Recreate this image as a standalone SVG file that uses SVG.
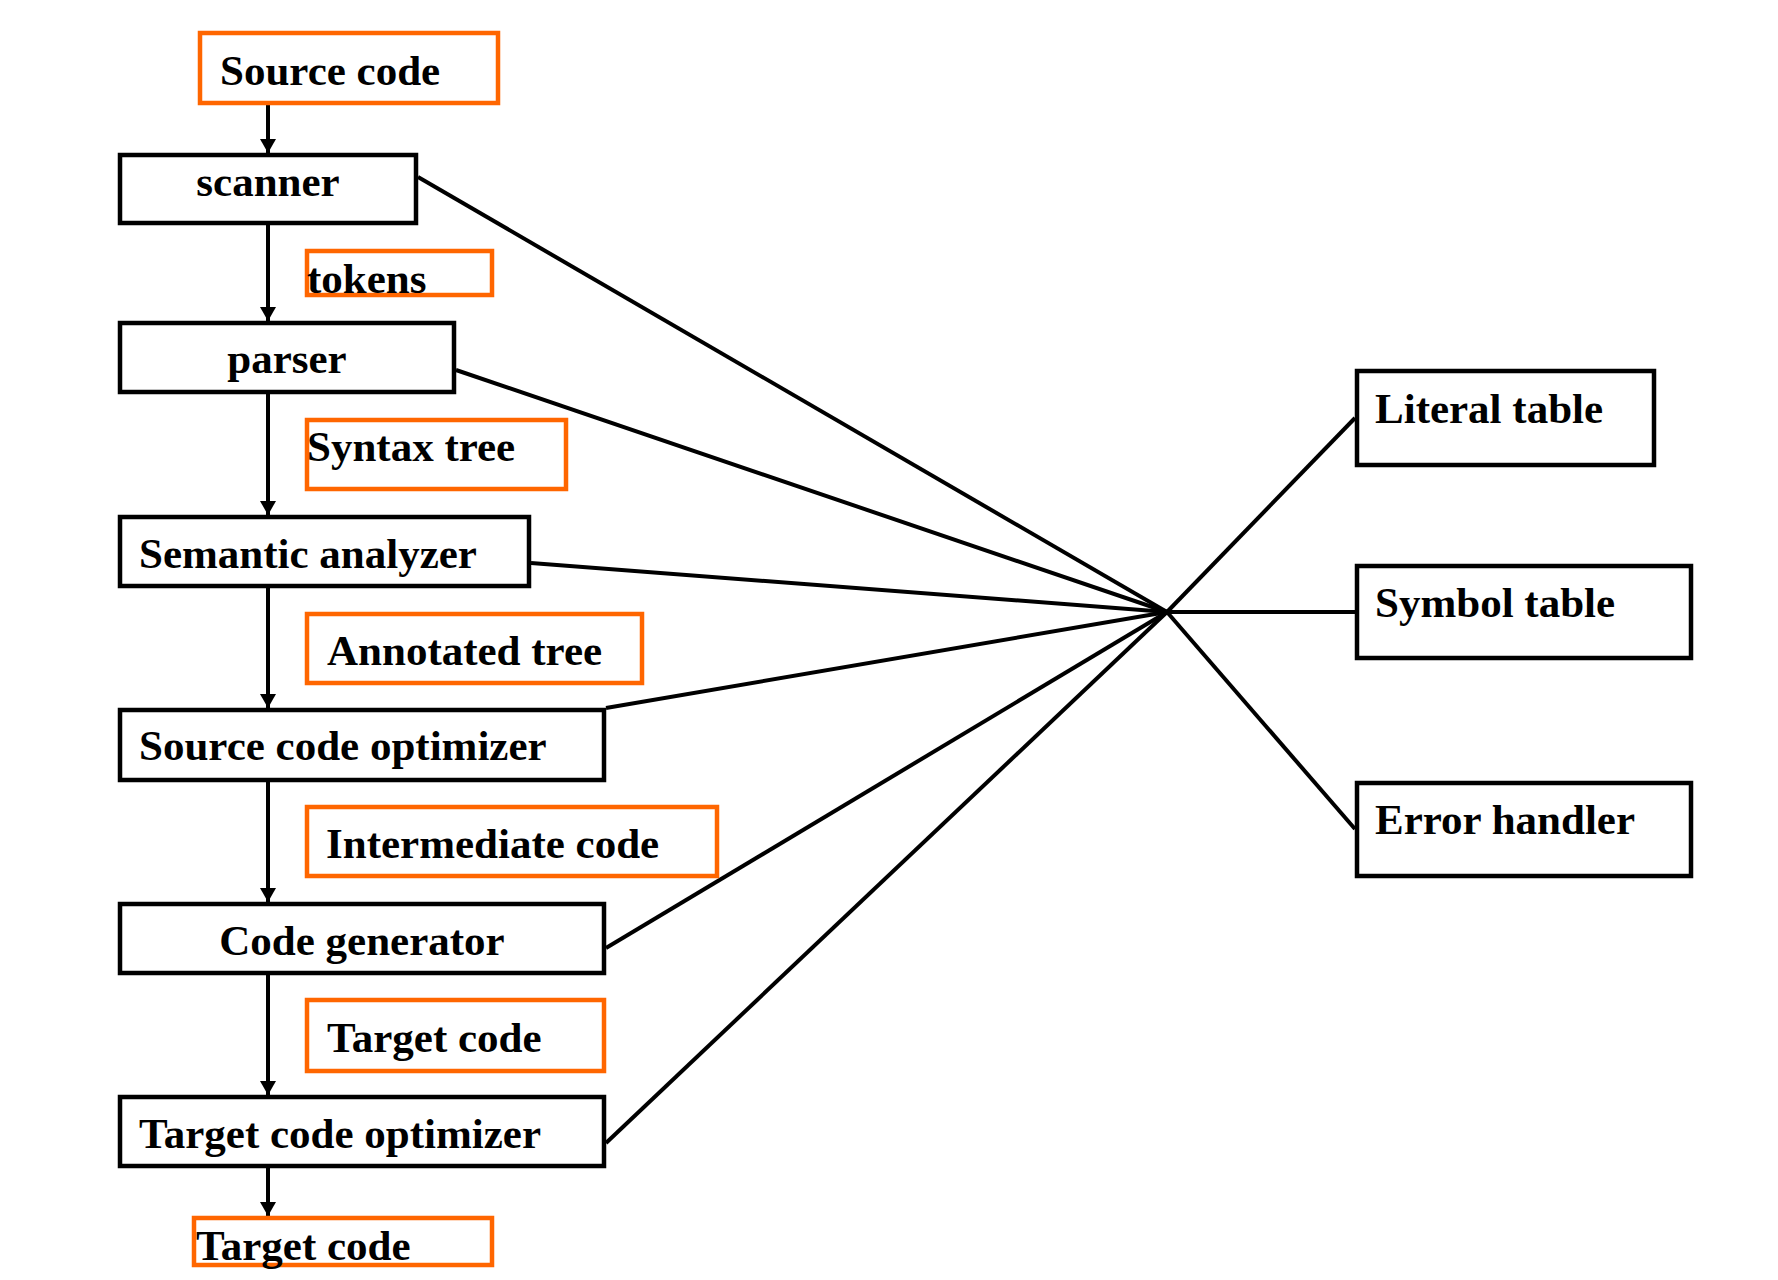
<svg xmlns="http://www.w3.org/2000/svg" width="1778" height="1280" viewBox="0 0 1778 1280">
<style>
.box{fill:#fff;stroke:#000;stroke-width:4.5}
.obox{fill:#fff;stroke:#FF6600;stroke-width:4.5}
.t{font-family:"Liberation Serif","Times New Roman",serif;font-weight:bold;font-size:43px;fill:#000}
.m{text-anchor:middle}
.ln{stroke:#000;stroke-width:4;fill:none}
</style>
<defs>
<marker id="ah" viewBox="0 0 14 16" refX="14" refY="8" markerWidth="14" markerHeight="16" markerUnits="userSpaceOnUse" orient="auto">
<path d="M0,0 L14,8 L0,16 z" fill="#000"/>
</marker>
</defs>
<rect width="1778" height="1280" fill="#fff"/>
<g id="connectors">
<line class="ln" x1="268" y1="105" x2="268" y2="153" marker-end="url(#ah)"/>
<line class="ln" x1="268" y1="225" x2="268" y2="321" marker-end="url(#ah)"/>
<line class="ln" x1="268" y1="394" x2="268" y2="515" marker-end="url(#ah)"/>
<line class="ln" x1="268" y1="588" x2="268" y2="708" marker-end="url(#ah)"/>
<line class="ln" x1="268" y1="782" x2="268" y2="902" marker-end="url(#ah)"/>
<line class="ln" x1="268" y1="975" x2="268" y2="1095" marker-end="url(#ah)"/>
<line class="ln" x1="268" y1="1168" x2="268" y2="1216" marker-end="url(#ah)"/>
<line class="ln" x1="418" y1="177" x2="1167" y2="612"/>
<line class="ln" x1="456" y1="370" x2="1167" y2="612"/>
<line class="ln" x1="531" y1="563" x2="1167" y2="612"/>
<line class="ln" x1="606" y1="708" x2="1167" y2="612"/>
<line class="ln" x1="606" y1="948" x2="1167" y2="612"/>
<line class="ln" x1="606" y1="1143" x2="1167" y2="612"/>
<line class="ln" x1="1167" y1="612" x2="1355" y2="418"/>
<line class="ln" x1="1167" y1="612" x2="1355" y2="612"/>
<line class="ln" x1="1167" y1="612" x2="1355" y2="829"/>
</g>
<g id="source-code"><rect class="obox" x="200" y="33" width="298" height="70"/><text class="t" x="220" y="85">Source code</text></g>
<g id="scanner"><rect class="box" x="120" y="155" width="296" height="68"/><text class="t m" x="268" y="196">scanner</text></g>
<g id="tokens"><rect class="obox" x="307" y="251" width="185" height="44"/><text class="t" x="307" y="293">tokens</text></g>
<g id="parser"><rect class="box" x="120" y="323" width="334" height="69"/><text class="t m" x="287" y="373">parser</text></g>
<g id="syntax-tree"><rect class="obox" x="307" y="420" width="259" height="69"/><text class="t" x="307" y="461">Syntax tree</text></g>
<g id="semantic-analyzer"><rect class="box" x="120" y="517" width="409" height="69"/><text class="t" x="139" y="568">Semantic analyzer</text></g>
<g id="annotated-tree"><rect class="obox" x="307" y="614" width="335" height="69"/><text class="t" x="327" y="665">Annotated tree</text></g>
<g id="source-code-optimizer"><rect class="box" x="120" y="710" width="484" height="70"/><text class="t" x="139" y="760">Source code optimizer</text></g>
<g id="intermediate-code"><rect class="obox" x="307" y="807" width="410" height="69"/><text class="t" x="326" y="858">Intermediate code</text></g>
<g id="code-generator"><rect class="box" x="120" y="904" width="484" height="69"/><text class="t m" x="362" y="955">Code generator</text></g>
<g id="target-code-1"><rect class="obox" x="307" y="1000" width="297" height="71"/><text class="t" x="327" y="1052">Target code</text></g>
<g id="target-code-optimizer"><rect class="box" x="120" y="1097" width="484" height="69"/><text class="t" x="139" y="1148">Target code optimizer</text></g>
<g id="target-code-2"><rect class="obox" x="194" y="1218" width="298" height="47"/><text class="t" x="196" y="1260">Target code</text></g>
<g id="literal-table"><rect class="box" x="1357" y="371" width="297" height="94"/><text class="t" x="1375" y="423">Literal table</text></g>
<g id="symbol-table"><rect class="box" x="1357" y="566" width="334" height="92"/><text class="t" x="1375" y="617">Symbol table</text></g>
<g id="error-handler"><rect class="box" x="1357" y="783" width="334" height="93"/><text class="t" x="1375" y="834">Error handler</text></g>
</svg>
